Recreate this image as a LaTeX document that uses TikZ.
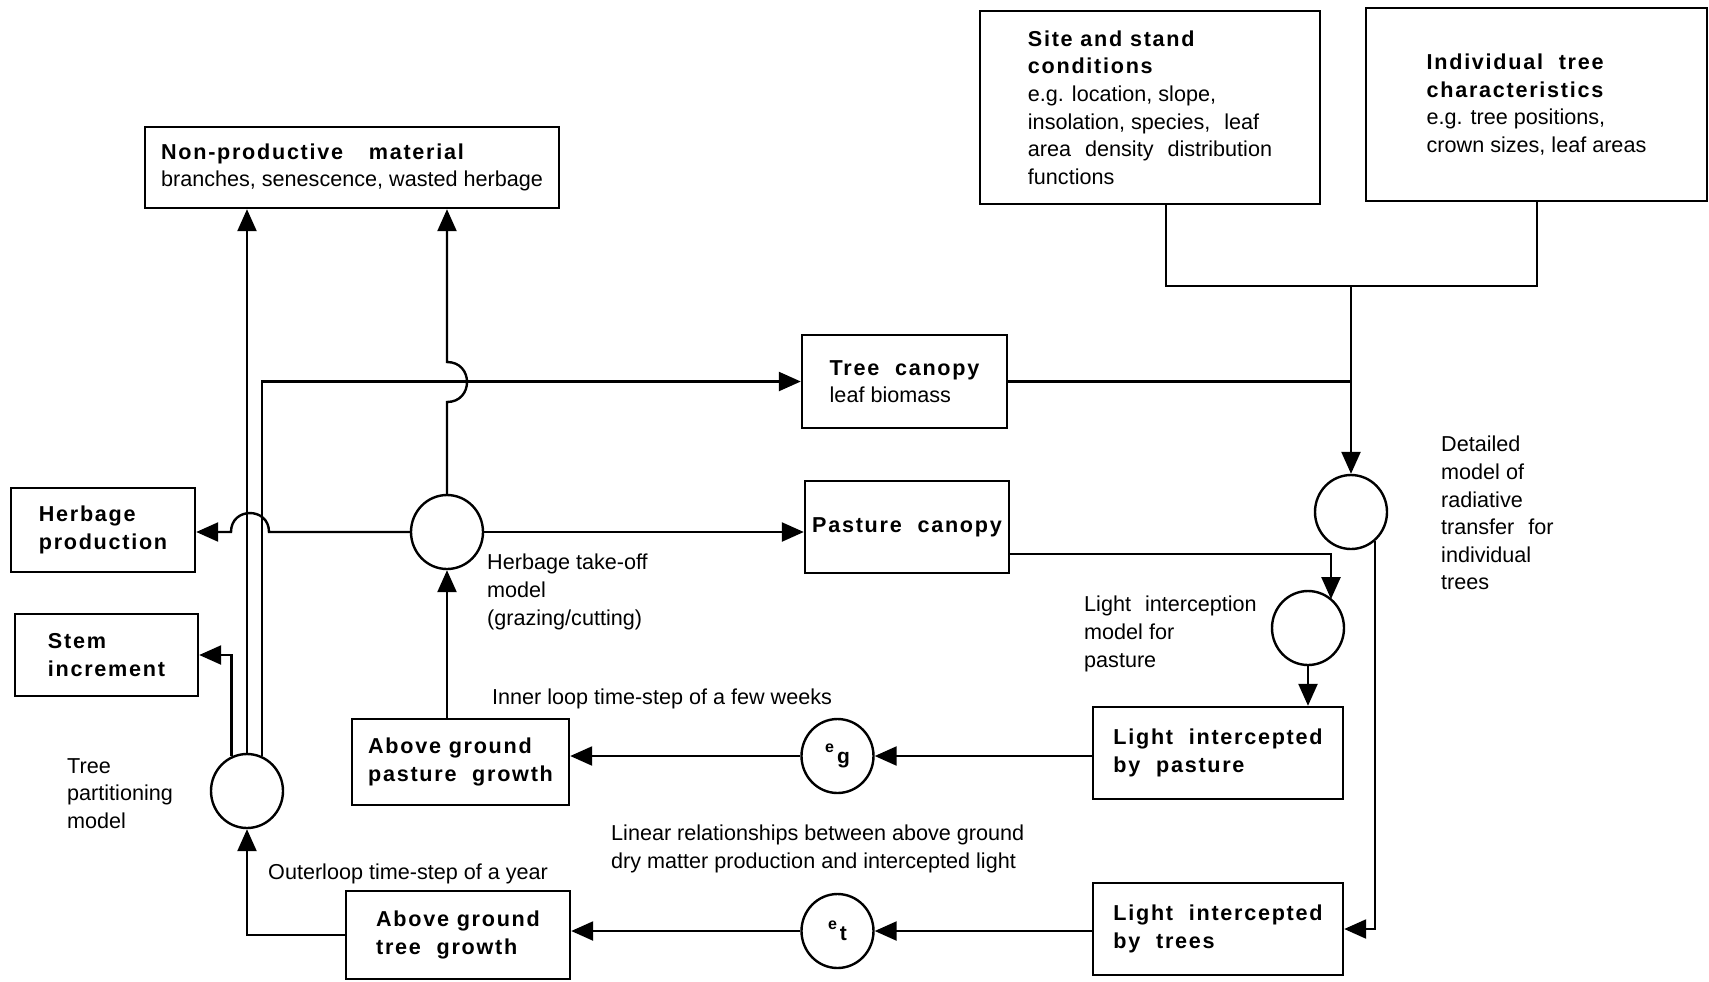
\documentclass[tikz,border=0pt]{standalone}
\usepackage{fontspec}
\setmainfont{Liberation Sans}
\newfontfamily\hbfont[LetterSpace=8]{Liberation Sans}
\usetikzlibrary{arrows.meta,calc,shapes.geometric}
\newcommand\hd[1]{{\hbfont\bfseries #1}}
\newcommand\wsp{\hspace{4pt}}
\begin{document}
\begin{tikzpicture}[x=0.5pt,y=-0.5pt, line width=1.2pt,
  box/.style={draw, align=left, inner sep=0pt, font=\fontsize{10.8}{13.8}\selectfont},
  circ/.style={draw, ellipse, minimum width=36pt, minimum height=37pt, inner sep=0pt},
  lbl/.style={anchor=north west, inner sep=0pt, align=left, font=\fontsize{10.8}{13.8}\selectfont},
  arr/.style={-{Triangle[length=11pt,width=9.5pt]}}
]
\useasboundingbox (0,0) rectangle (1709,981);

% boxes
\node[box, minimum width=207pt, minimum height=40.5pt] (np) at (352,167.5)
  {\hd{Non-productive\hspace{9pt} material}\\branches, senescence, wasted herbage};
\node[box, minimum width=170pt, minimum height=96.5pt] (site) at (1150,107.5)
  {\hd{Site and stand}\\\hd{conditions}\\e.g. location, slope,\\insolation, species,\wsp{} leaf\\area\wsp{} density\wsp{} distribution\\functions};
\node[box, minimum width=170.5pt, minimum height=96.5pt] (indiv) at (1536.5,104.5)
  {\hd{Individual\wsp{} tree}\\\hd{characteristics}\\e.g. tree positions,\\crown sizes, leaf areas};
\node[box, minimum width=102.5pt, minimum height=46.5pt] (tc) at (904.5,381.5)
  {\hd{Tree\wsp{} canopy}\\leaf biomass};
\node[box, minimum width=102pt, minimum height=46pt] (pc) at (907,527)
  {\hd{Pasture\wsp{} canopy}};
\node[box, minimum width=92pt, minimum height=42pt] (hp) at (103,530)
  {\hd{Herbage}\\\hd{production}};
\node[box, minimum width=91.5pt, minimum height=41pt] (si) at (106.5,655)
  {\hd{Stem}\\\hd{increment}};
\node[box, minimum width=108.5pt, minimum height=43pt] (pg) at (460.5,762)
  {\hd{Above ground}\\\hd{pasture\wsp{} growth}};
\node[box, minimum width=112pt, minimum height=44pt] (tg) at (458,935)
  {\hd{Above ground}\\\hd{tree\wsp{} growth}};
\node[box, minimum width=125pt, minimum height=46pt] (lp) at (1218,753)
  {\hd{Light\wsp{} intercepted}\\\hd{by\wsp{} pasture}};
\node[box, minimum width=125pt, minimum height=46pt] (lt) at (1218,929)
  {\hd{Light\wsp{} intercepted}\\\hd{by\wsp{} trees}};

% circles
\node[circ] (hto) at (447,532) {};
\node[circ] (tp) at (247,791) {};
\node[circ] (rad) at (1351,512) {};
\node[circ] (li) at (1308,628) {};
\node[circ] (eg) at (837.5,756) {\raisebox{5.5pt}{\fontsize{8}{8}\selectfont\bfseries e}\kern1.5pt{\fontsize{10.5}{10.5}\selectfont\bfseries g}};
\node[circ] (et) at (837.5,931) {\raisebox{5.5pt}{\fontsize{8}{8}\selectfont\bfseries e}\kern1.5pt{\fontsize{10.5}{10.5}\selectfont\bfseries t}};

% labels
\node[lbl] (tpl) at (66,757) {Tree\\partitioning\\model};
\node[lbl] (htl) at (486,553) {Herbage take-off\\model\\(grazing/cutting)};
\node[lbl] (inl) at (491,688) {Inner loop time-step of a few weeks};
\node[lbl] (oul) at (267,863) {Outerloop time-step of a year};
\node[lbl] (lin) at (610,824) {Linear relationships between above ground\\dry matter production and intercepted light};
\node[lbl] (lil) at (1083,595) {Light\wsp{} interception\\model for\\pasture};
\node[lbl] (det) at (1440,435) {Detailed\\model of\\radiative\\transfer\wsp{} for\\individual\\trees};

% coordinates
\coordinate (sj) at (1166,286);
\coordinate (ij) at (1537,286);
\coordinate (jt) at (1351,286);
\coordinate (tcj) at (1351,381.5);
\coordinate (pcj) at (1331,554);
\coordinate (h1) at (447,402);
\coordinate (h2) at (447,362);
\coordinate (g1) at (269,532);
\coordinate (g2) at (231,532);

% connectors
\draw (site.south -| sj) -- (sj) -- (ij) -- (indiv.south -| ij);
\draw[arr] (jt) -- (rad.north);
\draw (tc.east) -- (tcj);
\draw[arr] (pc.east |- pcj) -- (pcj) -- (pcj |- li.50);
\draw[arr] (rad.-50) |- (lt.east);
\draw[arr] (li.south) -- (li.south |- lp.north);
\draw[arr] (lp.west |- eg) -- (eg.east);
\draw[arr] (eg.west) -- (eg.west -| pg.east);
\draw[arr] (lt.west |- et) -- (et.east);
\draw[arr] (et.west) -- (et.west -| tg.east);
\draw[arr] (tg.west) -| (tp.south);
\draw[arr] (pg.north -| hto.south) -- (hto.south);
\draw[arr] (hto.north) -- (h1) .. controls +(26.7,0) and +(26.7,0) .. (h2) -- (h2 |- np.south);
\draw[arr] (hto.east) -- (hto.east -| pc.west);
\draw[arr] (hto.west) -- (g1) .. controls +(0,-25.3) and +(0,-25.3) .. (g2) -- (g2 -| hp.east);
\draw[arr] (tp.114) |- (si.east);
\draw[arr] (tp.north) -- (tp.north |- np.south);
\draw[arr] (tp.67) |- (tc.west);
\end{tikzpicture}
\end{document}
